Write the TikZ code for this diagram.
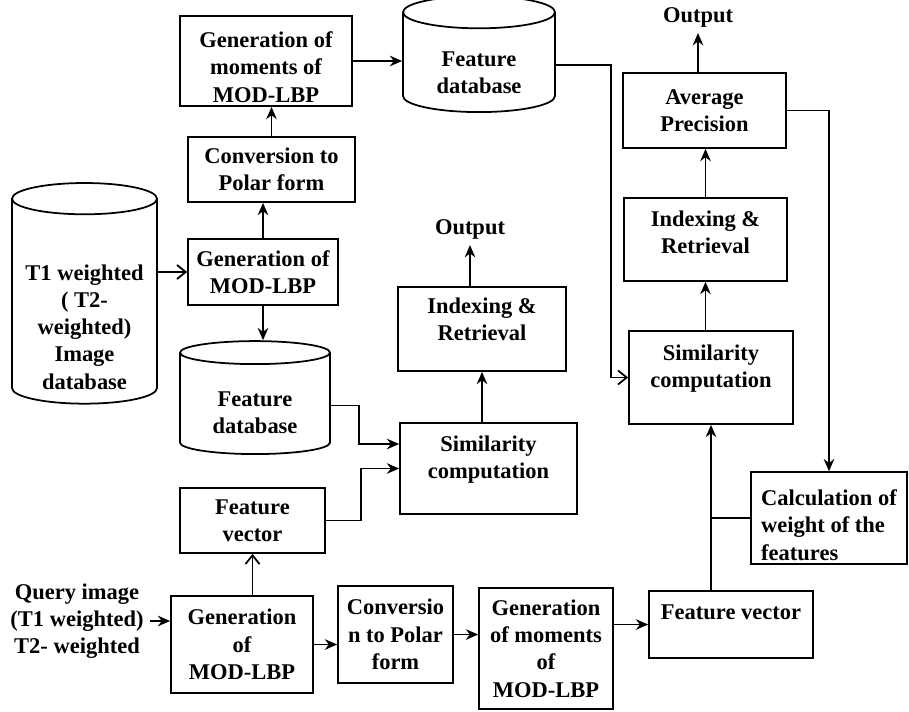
\documentclass[tikz,border=0pt]{standalone}
\usepackage{fontspec}
\setmainfont{Liberation Serif}
\usetikzlibrary{arrows.meta,shapes.geometric}

\begin{document}
\begin{tikzpicture}[x=0.02cm,y=-0.02cm,
  every node/.style={font=\fontsize{12.8}{15.5}\selectfont\bfseries},
  box/.style={draw,line width=1pt,align=center,inner sep=2pt},
  dbase/.style={draw,line width=1pt,cylinder,shape border rotate=90,aspect=0.25,align=center,inner sep=2pt},
  arr/.style={line width=1pt,-{Stealth[length=7pt,width=6pt]}},
  oarr/.style={line width=1pt,-{Straight Barb[length=5pt,width=8pt]}}]
  \useasboundingbox (0,0) rectangle (909,711);
  % database branch
  \node[dbase,minimum width=2.9cm,minimum height=3.96cm,text height=97pt] (idb) at (84.5,304) {T1 weighted\\( T2-\\weighted)\\Image\\database};
  \node[box,minimum width=3.0cm,minimum height=1.32cm] (genB) at (263,272) {Generation of\\MOD-LBP};
  \node[box,minimum width=3.34cm,minimum height=1.3cm] (convA) at (271.5,169.5) {Conversion to\\Polar form};
  \node[box,minimum width=3.44cm,minimum height=1.8cm,text height=47pt] (genA) at (266,61) {Generation of\\moments of\\MOD-LBP};
  \node[dbase,aspect=0.35,minimum width=3.04cm,minimum height=2.32cm,text height=33pt] (fdbA) at (479,65) {Feature\\database};
  \node[dbase,minimum width=3.0cm,minimum height=2.26cm,text height=32pt] (fdbB) at (255,405.5) {Feature\\database};
  % right column
  \node (outA) at (698,17) {Output};
  \node[box,minimum width=3.26cm,minimum height=1.5cm] (avgp) at (704.5,110.5) {Average\\Precision};
  \node[box,minimum width=3.26cm,minimum height=1.66cm,text depth=8pt] (irA) at (705.5,239.5) {Indexing \&\\Retrieval};
  \node[box,minimum width=3.28cm,minimum height=1.86cm,text depth=13pt] (simA) at (711,377.5) {Similarity\\computation};
  \node[box,align=left,minimum width=3.12cm,minimum height=1.8cm,text height=48pt] (calc) at (829,518) {Calculation of\\weight of the\\features};
  \node[box,minimum width=3.28cm,minimum height=1.34cm,text depth=14pt] (fvA) at (731,624.5) {Feature vector};
  % query branch
  \node[align=center] (query) at (77,621) {Query image\\(T1 weighted)\\T2- weighted};
  \node[box,minimum width=2.84cm,minimum height=1.94cm] (genC) at (242,644.5) {Generation\\of\\MOD-LBP};
  \node[box,minimum width=2.3cm,minimum height=1.94cm] (convB) at (395.5,634.5) {Conversio\\n to Polar\\form};
  \node[box,minimum width=2.68cm,minimum height=2.42cm] (genD) at (546,648.5) {Generation\\of moments\\of\\MOD-LBP};
  \node[box,minimum width=2.9cm,minimum height=1.3cm] (fvB) at (252.5,520.5) {Feature\\vector};
  \node[box,minimum width=3.54cm,minimum height=1.82cm,text depth=13pt] (sqB) at (488.5,468.5) {Similarity\\computation};
  \node[box,minimum width=3.36cm,minimum height=1.68cm,text depth=11pt] (irB) at (482,329) {Indexing \&\\Retrieval};
  \node (outB) at (470,229) {Output};
  % connectors
  \draw[oarr] (idb.east |- genB.west) -- (genB.west);
  \draw[arr] (genB.north) -- (genB.north |- convA.south);
  \draw[arr] (convA.north) -- (convA.north |- genA.south);
  \draw[arr] (genA.east) -- (genA.east -| fdbA.west);
  \draw[arr] (genB.south) -- (genB.south |- fdbB.north);
  \draw[oarr] (fdbA.east) -- ++(55,0) |- (simA.west);
  \draw[arr] (outA.south |- avgp.north) -- (outA.south);
  \draw[arr] (irA.north) -- (irA.north |- avgp.south);
  \draw[arr] (irA.south |- simA.north) -- (irA.south);
  \draw[arr] (avgp.east) -| (calc.north);
  \draw[line width=1pt] (calc.west) -- (calc.west -| simA.south);
  \draw[arr] (fvA.north -| simA.south) -- (simA.south);
  \draw[arr] (query.east) -- (query.east -| genC.west);
  \draw[arr] (genC.east) -- (genC.east -| convB.west);
  \draw[arr] (convB.east) -- (convB.east -| genD.west);
  \draw[arr] (genD.east |- fvA.west) -- (fvA.west);
  \draw[oarr] (fvB.south |- genC.north) -- (fvB.south);
  \draw[arr] (fvB.east) -- ++(35,0) |- (sqB.west);
  \draw[arr] (fdbB.east) -- ++(28,0) |- ([yshift=0.49cm]sqB.west);
  \draw[arr] (irB.south |- sqB.north) -- (irB.south);
  \draw[arr] (outB.south |- irB.north) -- (outB.south);
\end{tikzpicture}
\end{document}
